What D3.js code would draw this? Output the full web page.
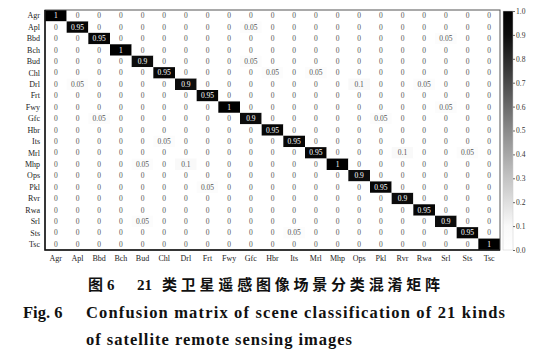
<!DOCTYPE html>
<html lang="zh">
<head>
<meta charset="utf-8">
<script src="https://d3js.org/d3.v7.min.js"></script>
<style>
  body { margin: 0; background: #fff; }
  svg { display: block; }
</style>
</head>
<body>
<svg width="548" height="363"></svg>
<script>
// class names (rows = true class, cols = predicted)
var classes = ["Agr","Apl","Bbd","Bch","Bud","Chl","Drl","Frt","Fwy","Gfc","Hbr",
               "Its","Mrl","Mhp","Ops","Pkl","Rvr","Rwa","Srl","Sts","Tsc"];

var matrix = [
  [1,0,0,0,0,0,0,0,0,0,0,0,0,0,0,0,0,0,0,0,0],
  [0,0.95,0,0,0,0,0,0,0,0.05,0,0,0,0,0,0,0,0,0,0,0],
  [0,0,0.95,0,0,0,0,0,0,0,0,0,0,0,0,0,0,0,0.05,0,0],
  [0,0,0,1,0,0,0,0,0,0,0,0,0,0,0,0,0,0,0,0,0],
  [0,0,0,0,0.9,0,0,0,0,0.05,0,0,0,0,0,0,0,0,0,0,0],
  [0,0,0,0,0,0.95,0,0,0,0,0.05,0,0.05,0,0,0,0,0,0,0,0],
  [0,0.05,0,0,0,0,0.9,0,0,0,0,0,0,0,0.1,0,0,0.05,0,0,0],
  [0,0,0,0,0,0,0,0.95,0,0,0,0,0,0,0,0,0,0,0,0,0],
  [0,0,0,0,0,0,0,0,1,0,0,0,0,0,0,0,0,0,0.05,0,0],
  [0,0,0.05,0,0,0,0,0,0,0.9,0,0,0,0,0,0.05,0,0,0,0,0],
  [0,0,0,0,0,0,0,0,0,0,0.95,0,0,0,0,0,0,0,0,0,0],
  [0,0,0,0,0,0.05,0,0,0,0,0,0.95,0,0,0,0,0,0,0,0,0],
  [0,0,0,0,0,0,0,0,0,0,0,0,0.95,0,0,0,0.1,0,0,0.05,0],
  [0,0,0,0,0.05,0,0.1,0,0,0,0,0,0,1,0,0,0,0,0,0,0],
  [0,0,0,0,0,0,0,0,0,0,0,0,0,0,0.9,0,0,0,0,0,0],
  [0,0,0,0,0,0,0,0.05,0,0,0,0,0,0,0,0.95,0,0,0,0,0],
  [0,0,0,0,0,0,0,0,0,0,0,0,0,0,0,0,0.9,0,0,0,0],
  [0,0,0,0,0,0,0,0,0,0,0,0,0,0,0,0,0,0.95,0,0,0],
  [0,0,0,0,0.05,0,0,0,0,0,0,0,0,0,0,0,0,0,0.9,0,0],
  [0,0,0,0,0,0,0,0,0,0,0,0.05,0,0,0,0,0,0,0,0.95,0],
  [0,0,0,0,0,0,0,0,0,0,0,0,0,0,0,0,0,0,0,0,1]
];

var barTicks = [0,0.1,0.2,0.3,0.4,0.5,0.6,0.7,0.8,0.9,1.0];

var captionCn = "类卫星遥感图像场景分类混淆矩阵";
var captionEn1 = "Confusion matrix of scene classification of 21 kinds";
var captionEn2 = "of satellite remote sensing images";

var svg = d3.select("svg");
var serif = "'Liberation Serif', 'Times New Roman', serif";

// plot box (note: "top" is taken by window.top, so use own names)
var boxL = 45, boxT = 10, boxR = 500, boxB = 250;

var x = d3.scaleBand().domain(classes).range([boxL, boxR]);
var y = d3.scaleBand().domain(classes).range([boxT, boxB]);

// grey map, white for small values, black near 1
var color = d3.scaleLinear()
    .domain([0, 0.1, 0.3, 0.5, 0.7, 0.9, 1])
    .range(["#ffffff", "#f9f9f9", "#c4c4c4", "#8a8a8a", "#4a4a4a", "#0c0c0c", "#000000"]);

var cells = [];
matrix.forEach(function(row, i) {
  row.forEach(function(v, j) {
    cells.push({ r: classes[i], c: classes[j], v: v });
  });
});

var g = svg.append("g");

g.selectAll("rect.cell")
  .data(cells)
  .enter().append("rect")
  .attr("class", "cell")
  .attr("x", function(d) { return x(d.c); })
  .attr("y", function(d) { return y(d.r); })
  .attr("width", x.bandwidth())
  .attr("height", y.bandwidth())
  .attr("fill", function(d) { return color(d.v); });

g.selectAll("text.val")
  .data(cells)
  .enter().append("text")
  .attr("class", "val")
  .attr("x", function(d) { return x(d.c) + x.bandwidth() / 2; })
  .attr("y", function(d) { return y(d.r) + y.bandwidth() / 2 + 2.6; })
  .attr("text-anchor", "middle")
  .attr("font-family", serif)
  .attr("font-size", "7.5px")
  .attr("fill", function(d) { return d.v > 0.5 ? "#fff" : "#555"; })
  .text(function(d) { return String(d.v); });

// frame
svg.append("rect")
  .attr("x", boxL).attr("y", boxT)
  .attr("width", boxR - boxL).attr("height", boxB - boxT)
  .attr("fill", "none").attr("stroke", "#555").attr("stroke-width", 1);

svg.append("path")
  .attr("d", "M" + boxL + "," + boxT + "V" + boxB + "H" + boxR)
  .attr("fill", "none").attr("stroke", "#111").attr("stroke-width", 1.5);

// row labels
svg.selectAll("text.rl")
  .data(classes)
  .enter().append("text")
  .attr("class", "rl")
  .attr("x", boxL - 5)
  .attr("y", function(d) { return y(d) + y.bandwidth() / 2 + 2.7; })
  .attr("text-anchor", "end")
  .attr("font-family", serif)
  .attr("font-size", "8px")
  .attr("fill", "#222")
  .text(function(d) { return d; });

// column labels
svg.selectAll("text.cl")
  .data(classes)
  .enter().append("text")
  .attr("class", "cl")
  .attr("x", function(d) { return x(d) + x.bandwidth() / 2; })
  .attr("y", boxB + 10.5)
  .attr("text-anchor", "middle")
  .attr("font-family", serif)
  .attr("font-size", "8px")
  .attr("fill", "#222")
  .text(function(d) { return d; });

// colour bar
var cbX = 503, cbW = 10;
var cy = d3.scaleLinear().domain([0, 1]).range([boxB, boxT + 1]);

var defs = svg.append("defs");
var grad = defs.append("linearGradient")
  .attr("id", "cbar").attr("x1", 0).attr("y1", 1).attr("x2", 0).attr("y2", 0);
d3.range(0, 1.0001, 0.05).forEach(function(t) {
  grad.append("stop").attr("offset", t).attr("stop-color", color(t));
});

svg.append("rect")
  .attr("x", cbX).attr("y", cy(1))
  .attr("width", cbW).attr("height", cy(0) - cy(1))
  .attr("fill", "url(#cbar)")
  .attr("stroke", "#ccc").attr("stroke-width", 0.5);

var cAxis = svg.append("g")
  .attr("transform", "translate(" + (cbX + cbW) + ",0)")
  .call(d3.axisRight(cy).tickValues(barTicks).tickFormat(d3.format(".1f")).tickSize(2).tickPadding(1));
cAxis.select(".domain").remove();
cAxis.selectAll("line").attr("stroke", "#666");
cAxis.selectAll("text")
  .attr("font-family", serif)
  .attr("font-size", "7.5px")
  .attr("fill", "#333");

// captions
var cap = svg.append("text")
  .attr("y", 290)
  .attr("font-size", "15px")
  .attr("font-weight", "bold")
  .attr("fill", "#111");
cap.append("tspan").attr("x", 88).attr("font-family", "'Noto Sans CJK SC', sans-serif").text("图");
cap.append("tspan").attr("x", 107).attr("font-family", serif).text("6");
cap.append("tspan").attr("x", 137).attr("font-family", serif).text("21");
cap.append("tspan").attr("x", 162).attr("font-family", "'Noto Sans CJK SC', sans-serif")
  .attr("textLength", 278).attr("lengthAdjust", "spacing").text(captionCn);

svg.append("text")
  .attr("x", 23).attr("y", 318)
  .attr("font-family", serif).attr("font-size", "16.5px").attr("font-weight", "bold")
  .attr("fill", "#111")
  .text("Fig. 6");

svg.append("text")
  .attr("x", 86).attr("y", 318)
  .attr("font-family", serif).attr("font-size", "16.5px").attr("font-weight", "bold")
  .attr("fill", "#111")
  .attr("textLength", 419).attr("lengthAdjust", "spacing")
  .text(captionEn1);

svg.append("text")
  .attr("x", 86).attr("y", 345)
  .attr("font-family", serif).attr("font-size", "16.5px").attr("font-weight", "bold")
  .attr("fill", "#111")
  .attr("textLength", 266).attr("lengthAdjust", "spacing")
  .text(captionEn2);
</script>
</body>
</html>
